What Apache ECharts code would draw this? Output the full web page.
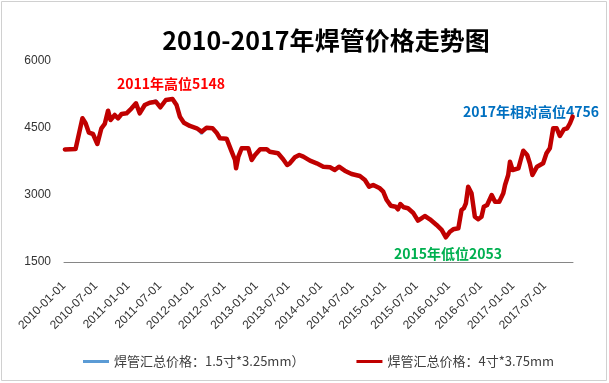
<!DOCTYPE html>
<html>
<head>
<meta charset="utf-8">
<script src="https://cdn.jsdelivr.net/npm/echarts@6/dist/echarts.min.js"></script>
<style>
html,body{margin:0;padding:0;background:#fff;}
#chart{width:609px;height:383px;}
</style>
</head>
<body>
<div id="chart"></div>
<script>
const titleText = '2010-2017年焊管价格走势图';
const seriesNames = ['焊管汇总价格：1.5寸*3.25mm）', '焊管汇总价格：4寸*3.75mm'];
const xTickLabels = ['2010-01-01','2010-07-01','2011-01-01','2011-07-01','2012-01-01','2012-07-01','2013-01-01','2013-07-01','2014-01-01','2014-07-01','2015-01-01','2015-07-01','2016-01-01','2016-07-01','2017-01-01','2017-07-01'];
const yTicks = [1500, 3000, 4500, 6000];
const annotations = ['2011年高位5148', '2017年相对高位4756', '2015年低位2053'];

const dates = ['2010-01-06','2010-03-08','2010-04-16','2010-05-04','2010-05-23','2010-06-15','2010-07-10','2010-08-02','2010-08-21','2010-09-09',
'2010-09-23','2010-10-17','2010-11-05','2010-11-25','2010-12-23','2011-01-21','2011-02-15','2011-03-08','2011-04-06','2011-05-04',
'2011-06-08','2011-07-04','2011-08-04','2011-09-11','2011-10-04','2011-10-23','2011-11-15','2011-12-19','2012-01-27','2012-02-24',
'2012-03-23','2012-04-26','2012-05-19','2012-06-07','2012-07-15','2012-08-13','2012-09-01','2012-09-07','2012-09-20','2012-10-09',
'2012-11-16','2012-12-05','2012-12-24','2013-01-22','2013-03-01','2013-03-18','2013-05-04','2013-06-02','2013-06-25','2013-07-10',
'2013-08-08','2013-09-02','2013-09-25','2013-11-02','2013-12-10','2014-01-17','2014-02-24','2014-03-23','2014-04-16','2014-05-19',
'2014-06-27','2014-08-13','2014-09-11','2014-10-05','2014-10-28','2014-12-05','2014-12-24','2015-01-13','2015-02-05','2015-03-05',
'2015-03-18','2015-04-01','2015-04-20','2015-05-14','2015-06-12','2015-07-10','2015-07-30','2015-08-18','2015-09-16','2015-10-24',
'2015-11-22','2015-12-16','2016-01-08','2016-01-27','2016-02-25','2016-03-14','2016-03-27','2016-04-08','2016-04-21','2016-05-10',
'2016-05-29','2016-06-17','2016-07-06','2016-07-19','2016-08-07','2016-09-02','2016-09-21','2016-10-15','2016-11-07','2016-11-17',
'2016-12-05','2016-12-15','2016-12-30','2017-02-01','2017-02-14','2017-03-01','2017-03-23','2017-04-07','2017-04-22','2017-05-18',
'2017-06-22','2017-07-11','2017-07-30','2017-08-18','2017-09-07','2017-09-25','2017-10-18','2017-11-06','2017-11-22','2017-12-07'];

const pipe4 = [4020,4030,4720,4606,4395,4366,4142,4494,4590,4888,
4679,4791,4717,4814,4829,4941,5053,4829,5015,5067,
5089,4964,5127,5148,5015,4753,4619,4545,4494,4417,
4507,4494,4395,4270,4261,3970,3784,3598,3858,4046,
4046,3784,3896,4023,4023,3970,3934,3800,3672,3710,
3844,3896,3858,3768,3710,3634,3620,3560,3634,3544,
3470,3426,3336,3186,3224,3150,3074,2888,2761,2738,
2680,2799,2725,2702,2604,2425,2478,2530,2456,2329,
2217,2053,2178,2232,2255,2664,2702,2814,3186,3038,
2514,2456,2514,2738,2776,3000,2850,2850,3038,3224,
3448,3746,3560,3598,3784,3992,3896,3710,3448,3634,
3710,3934,4046,4494,4494,4321,4471,4494,4606,4756];

const pipe15 = [4020,4030,4720,4606,4395,4366,4142,4494,4590,4888,
4679,4791,4717,4814,4829,4941,5053,4829,5015,5067,
5120,4964,5127,5148,5015,4753,4619,4545,4494,4370,
4507,4494,4395,4270,4261,3970,3784,3598,3858,4046,
4046,3784,3896,4023,4023,3970,3934,3800,3672,3710,
3844,3896,3858,3768,3710,3634,3620,3560,3634,3544,
3470,3426,3336,3186,3224,3150,3074,2888,2761,2738,
2680,2799,2725,2702,2604,2425,2478,2530,2456,2329,
2217,2053,2178,2232,2255,2664,2702,2814,3186,3038,
2514,2456,2514,2738,2776,3000,2850,2850,3038,3224,
3448,3746,3560,3598,3784,3992,3896,3710,3448,3634,
3710,3934,4046,4494,4494,4321,4471,4494,4606,4756];

function toUTC(s){ const p = s.split('-').map(Number); return Date.UTC(p[0], p[1]-1, p[2]); }
function pad(n){ return (n < 10 ? '0' : '') + n; }
function fmt(v){ const d = new Date(v); return d.getUTCFullYear() + '-' + pad(d.getUTCMonth()+1) + '-' + pad(d.getUTCDate()); }

const xMin = toUTC('2010-01-01');
const xMax = toUTC('2017-12-09');

const chart = echarts.init(document.getElementById('chart'), null, {renderer: 'canvas'});
const latin = 'Liberation Sans, DejaVu Sans, sans-serif';
const cjk = '"Noto Sans CJK SC", sans-serif';

chart.setOption({
  animation: false,
  backgroundColor: '#ffffff',
  grid: {left: 64, right: 36, top: 61, bottom: 121, containLabel: false},
  xAxis: {
    type: 'value',
    min: xMin,
    max: xMax,
    axisLine: {show: true, lineStyle: {color: '#868686', width: 1}},
    axisTick: {show: false},
    splitLine: {show: false},
    axisLabel: {
      customValues: xTickLabels.map(toUTC),
      formatter: function(v){ return fmt(v); },
      rotate: 45,
      margin: 22,
      color: '#333333',
      fontSize: 12,
      fontFamily: latin,
      hideOverlap: false
    }
  },
  yAxis: {
    type: 'value',
    min: yTicks[0],
    max: yTicks[yTicks.length-1],
    interval: yTicks[1]-yTicks[0],
    axisLine: {show: false},
    axisTick: {show: false},
    splitLine: {show: false},
    axisLabel: {color: '#333333', fontSize: 12, fontFamily: latin, margin: 13, formatter: function(v){ return String(v); }}
  },
  legend: {
    left: 78,
    top: 350,
    itemGap: 52,
    itemWidth: 26,
    itemHeight: 3,
    icon: 'rect',
    textStyle: {color: '#404040', fontSize: 13, fontFamily: cjk},
    data: seriesNames
  },
  series: [
    {
      name: seriesNames[0],
      type: 'line',
      data: dates.map((d,i) => [toUTC(d), pipe15[i]]),
      showSymbol: false,
      symbol: 'none',
      lineStyle: {color: '#5B9BD5', width: 2.5},
      itemStyle: {color: '#5B9BD5'}
    },
    {
      name: seriesNames[1],
      type: 'line',
      data: dates.map((d,i) => [toUTC(d), pipe4[i]]),
      showSymbol: false,
      symbol: 'none',
      lineStyle: {color: '#C00000', width: 4.5, join: 'round', cap: 'round'},
      itemStyle: {color: '#C00000'}
    }
  ],
  graphic: [
    {type: 'rect', shape: {x: 1.5, y: 1.5, width: 605, height: 379}, style: {fill: 'none', stroke: '#d0d0d0', lineWidth: 1}, silent: true},
    {type: 'text', style: {text: titleText, x: 326, y: 40, align: 'center', verticalAlign: 'middle', fill: '#000000', font: 'bold 25px ' + cjk}},
    {type: 'text', style: {text: annotations[0], x: 117, y: 84, align: 'left', verticalAlign: 'middle', fill: '#FF0000', font: 'bold 14px ' + cjk}},
    {type: 'text', style: {text: annotations[1], x: 463, y: 112, align: 'left', verticalAlign: 'middle', fill: '#0070C0', font: 'bold 14px ' + cjk}},
    {type: 'text', style: {text: annotations[2], x: 394, y: 254, align: 'left', verticalAlign: 'middle', fill: '#00B050', font: 'bold 14px ' + cjk}}
  ]
});
</script>
</body>
</html>
